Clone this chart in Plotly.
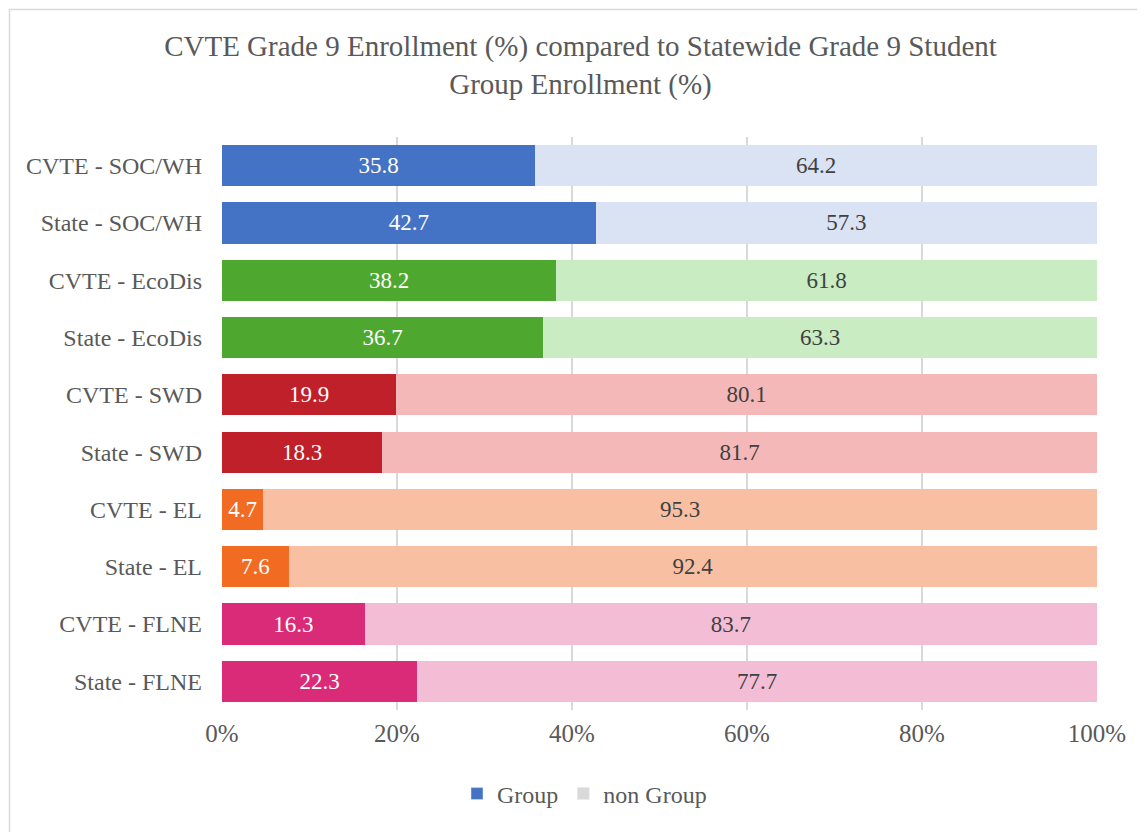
import plotly.graph_objects as go

categories = ["CVTE - SOC/WH", "State - SOC/WH", "CVTE - EcoDis", "State - EcoDis",
              "CVTE - SWD", "State - SWD", "CVTE - EL", "State - EL",
              "CVTE - FLNE", "State - FLNE"]
group_vals = [35.8, 42.7, 38.2, 36.7, 19.9, 18.3, 4.7, 7.6, 16.3, 22.3]
non_group_vals = [64.2, 57.3, 61.8, 63.3, 80.1, 81.7, 95.3, 92.4, 83.7, 77.7]
x_ticks = [0, 20, 40, 60, 80, 100]
x_tick_labels = ["0%", "20%", "40%", "60%", "80%", "100%"]

group_colors = ["#4472C4", "#4472C4", "#4EA72E", "#4EA72E", "#C0202A", "#C0202A",
                "#F26B23", "#F26B23", "#D92B77", "#D92B77"]
non_group_colors = ["#DAE3F3", "#DAE3F3", "#C9ECC3", "#C9ECC3", "#F4B8B9", "#F4B8B9",
                    "#F8BFA3", "#F8BFA3", "#F3BDD6", "#F3BDD6"]

FONT = "Liberation Serif, Times New Roman, serif"

# plot area in figure pixels
L, T, R, B = 214, 129, 1089, 702
W, H = R - L, B - T

fig = go.Figure()
fig.add_trace(go.Bar(
    y=categories, x=group_vals, orientation="h", name="Group",
    marker=dict(color=group_colors, line=dict(width=0)),
    texttemplate="%{x:.1f}", textposition="inside", insidetextanchor="middle",
    textfont=dict(family=FONT, size=23, color="white"), constraintext="none",
    showlegend=False, hoverinfo="x+y",
))
fig.add_trace(go.Bar(
    y=categories, x=non_group_vals, orientation="h", name="non Group",
    marker=dict(color=non_group_colors, line=dict(width=0)),
    texttemplate="%{x:.1f}", textposition="inside", insidetextanchor="middle",
    textfont=dict(family=FONT, size=23, color="#404040"), constraintext="none",
    showlegend=False, hoverinfo="x+y",
))
# legend entries
fig.add_trace(go.Bar(y=[None], x=[None], orientation="h", name="Group",
                     marker=dict(color="#4472C4"), showlegend=True))
fig.add_trace(go.Bar(y=[None], x=[None], orientation="h", name="non Group",
                     marker=dict(color="#D9D9D9"), showlegend=True))

fig.update_layout(
    width=1145, height=832,
    barmode="stack", bargap=0.28,
    paper_bgcolor="white", plot_bgcolor="white",
    margin=dict(l=L, r=1145 - R, t=T, b=832 - B, autoexpand=False),
    title=dict(text="CVTE Grade 9 Enrollment (%) compared to Statewide Grade 9 Student<br>Group Enrollment (%)",
               x=0.5, xanchor="center", xref="container",
               yref="container", y=1 - 48 / 832, yanchor="middle",
               font=dict(family=FONT, size=29, color="#595959")),
    font=dict(family=FONT, size=23, color="#595959"),
    xaxis=dict(range=[0, 100], tickvals=x_ticks, ticktext=x_tick_labels,
               showgrid=True, gridcolor="#D9D9D9", gridwidth=1.5, zeroline=False,
               showline=False, ticks="", ticklen=0, ticklabelstandoff=6,
               tickfont=dict(family=FONT, size=25, color="#595959")),
    yaxis=dict(autorange="reversed", showgrid=False, zeroline=False, showline=False,
               ticks="", ticklabelstandoff=19,
               tickfont=dict(family=FONT, size=24, color="#595959")),
    legend=dict(orientation="h", x=0.5 - 75 / W, xanchor="center",
                y=(B - 786) / H, yanchor="middle",
                font=dict(family=FONT, size=24, color="#595959"),
                itemwidth=30, traceorder="normal"),
    shapes=[dict(type="rect", xref="paper", yref="paper",
                 x0=(1.5 - L) / W, x1=(1160 - L) / W,
                 y0=(B - 850) / H, y1=(B - 1.5) / H,
                 line=dict(color="#D9D9D9", width=1.5), fillcolor="rgba(0,0,0,0)",
                 layer="below")],
)

fig.write_html("out.html")
